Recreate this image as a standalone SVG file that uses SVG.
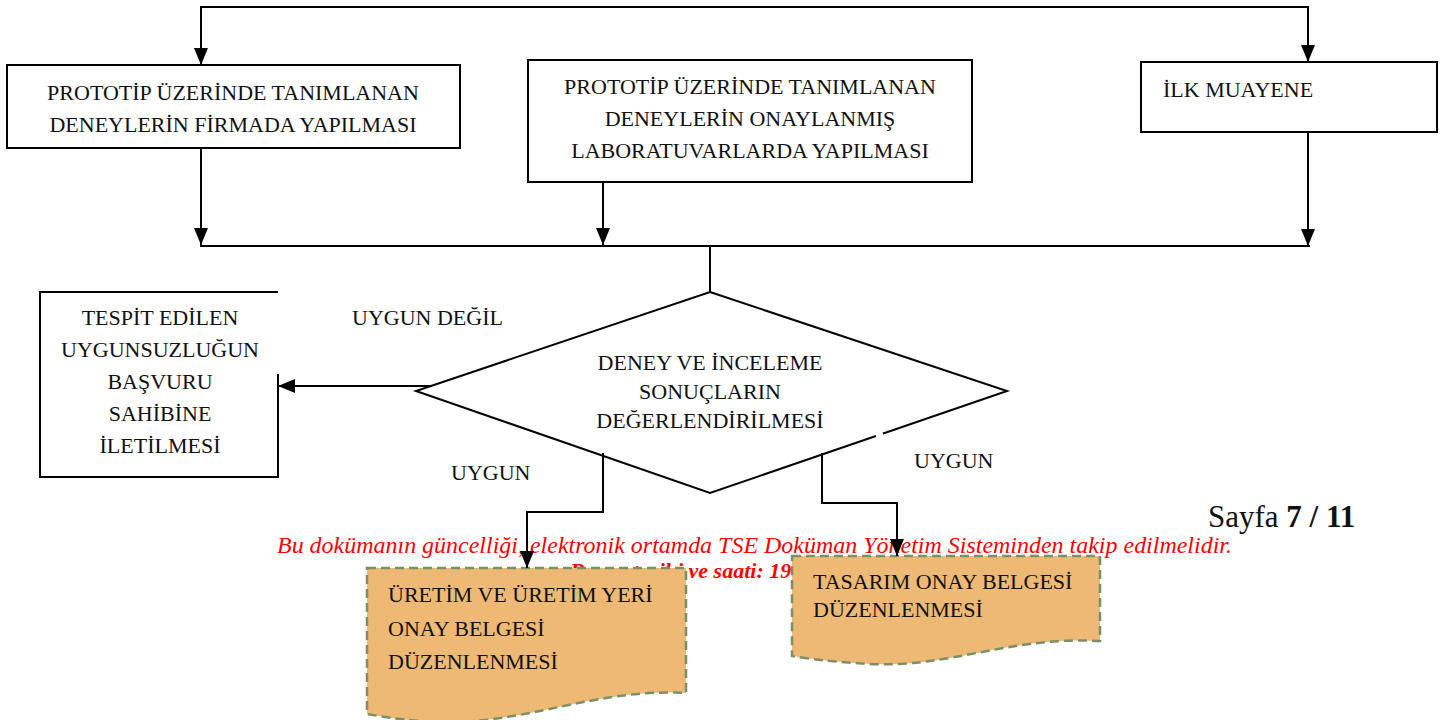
<svg xmlns="http://www.w3.org/2000/svg" width="1450" height="720" viewBox="0 0 1450 720">
<style>
.t{font-family:"Liberation Serif","Times New Roman",serif;font-size:22px;fill:#111}
.c{text-anchor:middle}
.box{fill:#fff;stroke:#000;stroke-width:2}
.doc{fill:#EDB974;stroke:#7A9068;stroke-width:2.5;stroke-dasharray:9 5}
.ln{fill:none;stroke:#000;stroke-width:2}
.red{font-family:"Liberation Serif","Times New Roman",serif;font-size:24px;font-style:italic;fill:#FF0000}
.red2{font-family:"Liberation Serif","Times New Roman",serif;font-size:22px;font-style:italic;font-weight:bold;fill:#FF0000}
.pg{font-family:"Liberation Serif","Times New Roman",serif;font-size:31px;fill:#111}
</style>
<defs>
<marker id="ah" markerUnits="userSpaceOnUse" markerWidth="18" markerHeight="18" viewBox="0 0 18 18" refX="17" refY="9" orient="auto">
<path d="M0,2 L17,9 L0,16 Z" fill="#000"/>
</marker>
</defs>
<rect width="1450" height="720" fill="#fff"/>

<g id="footer">
<text class="red" x="277" y="553" textLength="955" lengthAdjust="spacingAndGlyphs">Bu dokümanın güncelliği, elektronik ortamda TSE Doküman Yönetim Sisteminden takip edilmelidir.</text>
<text class="red2" x="570" y="578">Basım tarihi ve saati: 19</text>
<text class="pg" x="1208" y="527">Sayfa <tspan font-weight="bold">7 / 11</tspan></text>
</g>

<g id="n1">
<rect class="box" x="7" y="65" width="453" height="83"/>
<text class="t c" x="233" y="100">PROTOTİP ÜZERİNDE TANIMLANAN</text>
<text class="t c" x="233" y="132">DENEYLERİN FİRMADA YAPILMASI</text>
</g>
<g id="n2">
<rect class="box" x="528" y="60" width="444" height="122"/>
<text class="t c" x="750" y="94">PROTOTİP ÜZERİNDE TANIMLANAN</text>
<text class="t c" x="750" y="126">DENEYLERİN ONAYLANMIŞ</text>
<text class="t c" x="750" y="158">LABORATUVARLARDA YAPILMASI</text>
</g>
<g id="n3">
<rect class="box" x="1141" y="62" width="296" height="70"/>
<text class="t" x="1163" y="97">İLK MUAYENE</text>
</g>
<g id="n4">
<path class="box" d="M278,374 V477 H40 V292 H278"/>
<text class="t c" x="160" y="325">TESPİT EDİLEN</text>
<text class="t c" x="160" y="357">UYGUNSUZLUĞUN</text>
<text class="t c" x="160" y="389">BAŞVURU</text>
<text class="t c" x="160" y="421">SAHİBİNE</text>
<text class="t c" x="160" y="453">İLETİLMESİ</text>
</g>
<g id="n5">
<polygon class="box" points="710,292 1007,391 710,493 416,391"/>
<line x1="876" y1="436.2" x2="883" y2="433.8" stroke="#fff" stroke-width="4"/>
<text class="t c" x="710" y="370">DENEY VE İNCELEME</text>
<text class="t c" x="710" y="399">SONUÇLARIN</text>
<text class="t c" x="710" y="428">DEĞERLENDİRİLMESİ</text>
</g>
<g id="n6">
<path class="doc" d="M367,568 H686 V693 C600,688 530,722 450,722 C415,722 390,718 367,714 Z"/>
<text class="t" x="388" y="602">ÜRETİM VE ÜRETİM YERİ</text>
<text class="t" x="388" y="636">ONAY BELGESİ</text>
<text class="t" x="388" y="669">DÜZENLENMESİ</text>
</g>
<g id="n7">
<path class="doc" d="M792,556 H1100 V641 C1010,636 950,668 870,664 C835,662 810,659 792,656 Z"/>
<text class="t" x="813" y="589">TASARIM ONAY BELGESİ</text>
<text class="t" x="813" y="617">DÜZENLENMESİ</text>
</g>

<g id="labels">
<text class="t" x="352" y="325">UYGUN DEĞİL</text>
<text class="t" x="451" y="480">UYGUN</text>
<text class="t" x="914" y="468">UYGUN</text>
</g>

<g id="connectors">
<path class="ln" d="M710,7 H201 V65" marker-end="url(#ah)"/>
<path class="ln" d="M700,7 H1308 V62" marker-end="url(#ah)"/>
<path class="ln" d="M201,148 V245" marker-end="url(#ah)"/>
<path class="ln" d="M603,182 V245" marker-end="url(#ah)"/>
<path class="ln" d="M1308,132 V246" marker-end="url(#ah)"/>
<path class="ln" d="M200,246 H1310"/>
<path class="ln" d="M710,247 V292"/>
<path class="ln" d="M432,386 H278" marker-end="url(#ah)"/>
<path class="ln" d="M603,453 V512 H527 V568" marker-end="url(#ah)"/>
<path class="ln" d="M822,453 V503 H897 V556" marker-end="url(#ah)"/>
</g>
</svg>
